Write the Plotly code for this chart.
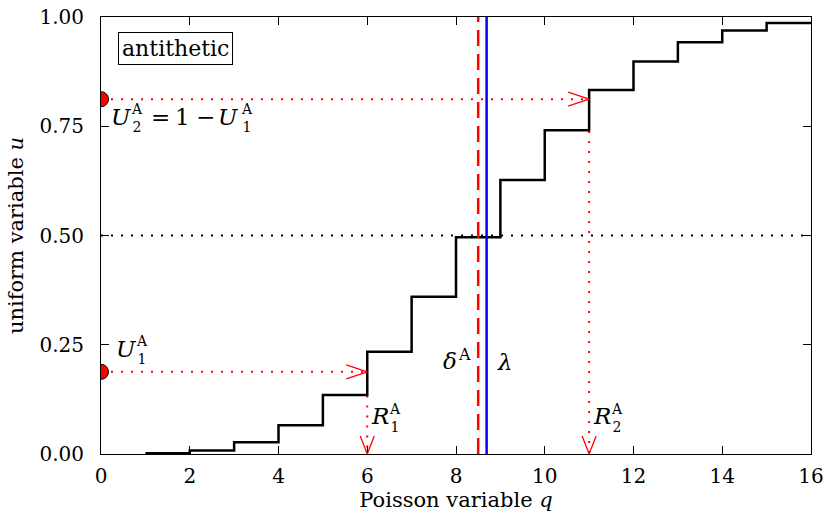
import plotly.graph_objects as go

# Data
q_vals = [1, 2, 3, 4, 5, 6, 7, 8, 9, 10, 11, 12, 13, 14, 15, 16]
cdf_vals = [0.002, 0.008, 0.027, 0.066, 0.135, 0.234, 0.360, 0.496, 0.627, 0.741,
            0.833, 0.898, 0.942, 0.969, 0.986, 0.986]
lam = 8.69
delta_a = 8.50
u1 = 0.188
u2 = 0.812
r1 = 6
r2 = 11
x_ticks = [0, 2, 4, 6, 8, 10, 12, 14, 16]
y_ticks = [0.0, 0.25, 0.5, 0.75, 1.0]
y_ticklabels = ["0.00", "0.25", "0.50", "0.75", "1.00"]

FONT = "DejaVu Serif"
RED = "#ff0000"

fig = go.Figure()

# median dotted line
fig.add_trace(go.Scatter(x=[0, 16], y=[0.5, 0.5], mode="lines",
                         line=dict(color="black", width=2, dash="2px,8px")))

# red dotted arrows
for u, r in [(u1, r1), (u2, r2)]:
    fig.add_trace(go.Scatter(x=[0, r, r], y=[u, u, 0], mode="lines",
                             line=dict(color=RED, width=2, dash="2px,8px")))

# step function
fig.add_trace(go.Scatter(x=q_vals, y=cdf_vals, mode="lines", line_shape="hv",
                         line=dict(color="black", width=2.5)))

# delta and lambda
fig.add_trace(go.Scatter(x=[delta_a, delta_a], y=[0, 1], mode="lines",
                         line=dict(color=RED, width=2.5, dash="16px,8px")))
fig.add_trace(go.Scatter(x=[lam, lam], y=[0, 1], mode="lines",
                         line=dict(color="#0000ff", width=2.5)))

# red dots
fig.add_trace(go.Scatter(x=[0, 0], y=[u1, u2], mode="markers",
                         marker=dict(color=RED, size=15, line=dict(color="black", width=1))))

# open V arrowheads
shapes = []
for u, r in [(u1, r1), (u2, r2)]:
    for dy in (7, -7):
        shapes.append(dict(type="line", xref="x", yref="y",
                           xsizemode="pixel", xanchor=r, x0=-21, x1=0,
                           ysizemode="pixel", yanchor=u, y0=dy, y1=0,
                           line=dict(color=RED, width=1.3)))
    for dx in (7, -7):
        shapes.append(dict(type="line", xref="x", yref="y",
                           xsizemode="pixel", xanchor=r, x0=dx, x1=0,
                           ysizemode="pixel", yanchor=0, y0=18, y1=0,
                           line=dict(color=RED, width=1.3)))

MAIN = 23
SMALL = 14


def piece(ax, ay, text, dx, dy, size, italic=False):
    t = f"<i>{text}</i>" if italic else text
    return dict(x=ax, y=ay, xref="x", yref="y", text=t, showarrow=False,
                xanchor="center", yanchor="middle", xshift=dx, yshift=dy,
                borderpad=0, font=dict(family=FONT, size=size, color="black"))


def script(ax, ay, sup, sub, dx, dy):
    # superscript stacked over subscript
    return piece(ax, ay, f"{sup}<br>{sub}", dx, dy, SMALL)


annotations = [
    dict(x=1.69, y=0.927, xref="x", yref="y", text="antithetic", showarrow=False,
         bordercolor="black", borderwidth=1, borderpad=3, bgcolor="white",
         font=dict(family=FONT, size=22, color="black")),
]
# U2 = 1 - U1 label, anchored at (0, u2)
annotations += [
    piece(0, u2, "U", 20, -17.8, MAIN, True),
    script(0, u2, "A", "2", 36, -19.0),
    piece(0, u2, "=", 59, -17.8, MAIN),
    piece(0, u2, "1", 81, -17.8, MAIN),
    piece(0, u2, "−", 104, -17.8, MAIN),
    piece(0, u2, "U", 127, -17.8, MAIN, True),
    script(0, u2, "A", "1", 146, -19.0),
]
# U1 label anchored at (0, u1)
annotations += [
    piece(0, u1, "U", 25, 23.3, MAIN, True),
    script(0, u1, "A", "1", 41, 21.5),
]
# delta label anchored at (delta_a, 0)
annotations += [
    piece(delta_a, 0, "δ", -28.2, 93, MAIN, True),
    piece(delta_a, 0, "A", -13.2, 100, 16),
]
# lambda label anchored at (lam, 0)
annotations += [piece(lam, 0, "λ", 18.4, 92, MAIN, True)]
# R labels
for r, idx in [(r1, "1"), (r2, "2")]:
    annotations += [
        piece(r, 0, "R", 12.5, 38.5, MAIN, True),
        script(r, 0, "A", idx, 27.5, 36.5),
    ]

tickf = dict(family=FONT, size=20, color="black")
titlef = dict(family=FONT, size=21, color="black")
axis_common = dict(showline=True, linecolor="black", linewidth=1, mirror="ticks",
                   ticks="inside", ticklen=8, tickcolor="black", tickwidth=1,
                   showgrid=False, zeroline=False, tickfont=tickf, automargin=False)

fig.update_layout(
    width=825, height=524, showlegend=False,
    margin=dict(l=101, r=14, t=17, b=70),
    paper_bgcolor="white", plot_bgcolor="white",
    font=tickf,
    xaxis=dict(range=[0, 16], tickvals=x_ticks, ticklabelstandoff=4,
               title=dict(text="Poisson variable <i>q</i>", font=titlef, standoff=4),
               **axis_common),
    yaxis=dict(range=[0, 1], tickvals=y_ticks, ticktext=y_ticklabels, ticklabelstandoff=12,
               title=dict(text="uniform variable <i>u</i>", font=titlef, standoff=10),
               **axis_common),
    shapes=shapes, annotations=annotations,
)

fig.write_html("out.html")
